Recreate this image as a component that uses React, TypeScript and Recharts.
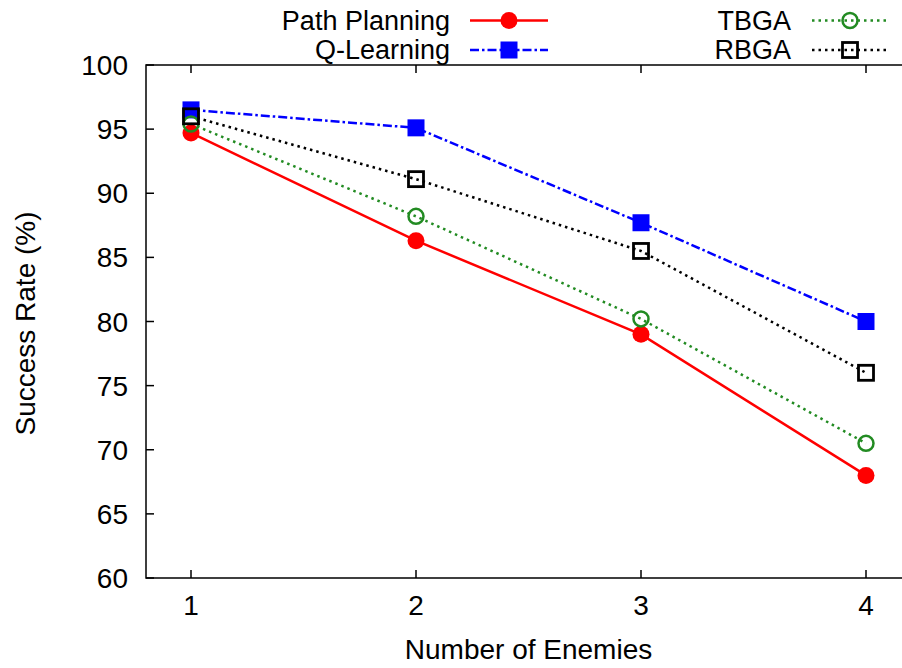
import React from 'react'
import { Label, Line, LineChart, ReferenceArea, XAxis, YAxis } from 'recharts'

// number of enemies on the x axis, success rate (%) per method
const enemies = [1, 2, 3, 4]
const pathPlanning = [94.7, 86.3, 79.0, 68.0]
const qLearning = [96.5, 95.1, 87.7, 80.0]
const tbga = [95.4, 88.2, 80.2, 70.5]
const rbga = [96.0, 91.1, 85.5, 76.0]

const xTicks = [1, 2, 3, 4]
const yTicks = [60, 65, 70, 75, 80, 85, 90, 95, 100]

const FONT = '"Liberation Sans", Arial, Helvetica, sans-serif'
const FONT_SIZE = 28
const LEGEND_FONT_SIZE = 27
const CHART_W = 930
const CHART_H = 668
const PLOT_TOP = 65
const PLOT_RIGHT = 911
const TICK = 8

type Marker = 'circle' | 'square' | 'openCircle' | 'openSquare'

const series: { key: string; name: string; color: string; dash?: string; width: number; marker: Marker }[] = [
  { key: 'pp', name: 'Path Planning', color: '#ff0000', width: 2.5, marker: 'circle' },
  { key: 'ql', name: 'Q-Learning', color: '#0000ff', dash: '9 3 2.5 3', width: 2.5, marker: 'square' },
  { key: 'tb', name: 'TBGA', color: '#228b22', dash: '2.5 4', width: 2.5, marker: 'openCircle' },
  { key: 'rb', name: 'RBGA', color: '#000000', dash: '2.5 4', width: 2.5, marker: 'openSquare' },
]

const values: Record<string, number[]> = { pp: pathPlanning, ql: qLearning, tb: tbga, rb: rbga }

const data = enemies.map((n, i) => {
  const row: Record<string, number> = { n }
  series.forEach((s) => (row[s.key] = values[s.key][i]))
  return row
})

function MarkerShape({ cx, cy, type, color }: { cx: number; cy: number; type: Marker; color: string }) {
  if (type === 'circle') return <circle cx={cx} cy={cy} r={8.5} fill={color} />
  if (type === 'openCircle') return <circle cx={cx} cy={cy} r={7.5} fill="none" stroke={color} strokeWidth={2.5} />
  if (type === 'square') return <rect x={cx - 8.5} y={cy - 8.5} width={17} height={17} fill={color} />
  return <rect x={cx - 7.5} y={cy - 7.5} width={15} height={15} fill="none" stroke={color} strokeWidth={2.8} />
}

function Txt({
  x,
  y,
  anchor,
  size = FONT_SIZE,
  children,
}: {
  x: number
  y: number
  anchor: 'start' | 'middle' | 'end'
  size?: number
  children: React.ReactNode
}) {
  return (
    <text x={x} y={y} textAnchor={anchor} fontFamily={FONT} fontSize={size} fill="#000">
      {children}
    </text>
  )
}

function XTick({ x, y, payload }: any) {
  return (
    <g>
      <line x1={x} y1={y} x2={x} y2={y - TICK} stroke="#000" strokeWidth={1.5} />
      <line x1={x} y1={PLOT_TOP} x2={x} y2={PLOT_TOP + TICK} stroke="#000" strokeWidth={1.5} />
      <Txt x={x} y={y + 37} anchor="middle">
        {payload.value}
      </Txt>
    </g>
  )
}

function YTick({ x, y, payload }: any) {
  return (
    <g>
      <line x1={x} y1={y} x2={x + TICK} y2={y} stroke="#000" strokeWidth={1.5} />
      <line x1={PLOT_RIGHT - TICK} y1={y} x2={PLOT_RIGHT} y2={y} stroke="#000" strokeWidth={1.5} />
      <Txt x={x - 18} y={y + 10} anchor="end">
        {payload.value}
      </Txt>
    </g>
  )
}

function LegendOverlay() {
  // gnuplot style: two columns, text right-aligned before the sample
  const cols = [
    { textRight: 450, x1: 470, x2: 548 },
    { textRight: 791, x1: 812, x2: 888 },
  ]
  const rows = [20.5, 50]
  return (
    <svg width={902} height={65} style={{ position: 'absolute', left: 0, top: 0 }}>
      {series.map((s, i) => {
        const c = cols[Math.floor(i / 2)]
        const ry = rows[i % 2]
        const mid = (c.x1 + c.x2) / 2
        return (
          <g key={s.key}>
            <Txt x={c.textRight} y={ry + 9} anchor="end" size={LEGEND_FONT_SIZE}>
              {s.name}
            </Txt>
            <line x1={c.x1} y1={ry} x2={c.x2} y2={ry} stroke={s.color} strokeWidth={s.width} strokeDasharray={s.dash} />
            <MarkerShape cx={mid} cy={ry} type={s.marker} color={s.color} />
          </g>
        )
      })}
    </svg>
  )
}

export default function App() {
  return (
    <div
      style={{
        position: 'absolute',
        left: 0,
        top: 0,
        width: 902,
        height: 668,
        overflow: 'hidden',
        background: '#fff',
      }}
    >
      <LineChart
        width={CHART_W}
        height={CHART_H}
        data={data}
        margin={{ top: PLOT_TOP, right: CHART_W - PLOT_RIGHT, bottom: 0, left: 0 }}
      >
        <XAxis
          dataKey="n"
          type="number"
          domain={[0.8, 4.2]}
          ticks={xTicks}
          height={90}
          tickSize={0}
          tickMargin={0}
          axisLine={false}
          tickLine={false}
          tick={<XTick />}
          allowDataOverflow
        >
          <Label
            content={({ viewBox }: any) => (
              <Txt x={viewBox.x + viewBox.width / 2} y={viewBox.y + 81} anchor="middle">
                Number of Enemies
              </Txt>
            )}
          />
        </XAxis>
        <YAxis
          type="number"
          domain={[60, 100]}
          ticks={yTicks}
          width={146}
          tickSize={0}
          tickMargin={0}
          axisLine={false}
          tickLine={false}
          tick={<YTick />}
          allowDataOverflow
        >
          <Label
            content={({ viewBox }: any) => {
              const cy = viewBox.y + viewBox.height / 2 + 2
              return (
                <text
                  x={0}
                  y={0}
                  transform={`translate(35,${cy}) rotate(-90)`}
                  textAnchor="middle"
                  fontFamily={FONT}
                  fontSize={FONT_SIZE}
                  fill="#000"
                >
                  Success Rate (%)
                </text>
              )
            }}
          />
        </YAxis>
        <ReferenceArea x1={0.8} x2={4.2} y1={60} y2={100} fill="none" stroke="#000" strokeWidth={1.5} />
        {series.map((s) => (
          <Line
            key={s.key}
            type="linear"
            dataKey={s.key}
            name={s.name}
            stroke={s.color}
            strokeWidth={s.width}
            strokeDasharray={s.dash}
            isAnimationActive={false}
            activeDot={false}
            dot={(p: any) => <MarkerShape key={`${s.key}-${p.index}`} cx={p.cx} cy={p.cy} type={s.marker} color={s.color} />}
          />
        ))}
      </LineChart>
      <LegendOverlay />
    </div>
  )
}
